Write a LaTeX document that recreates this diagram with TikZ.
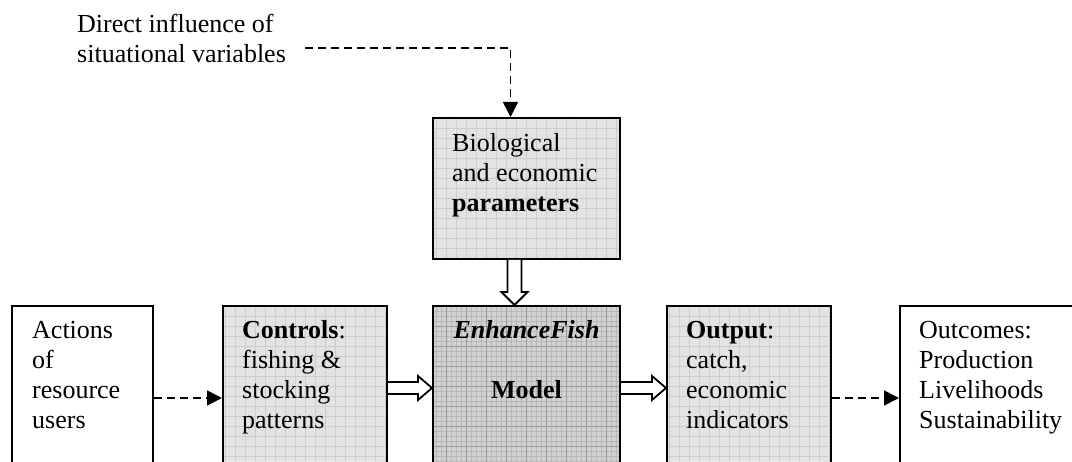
\documentclass[tikz,border=0pt]{standalone}
\usepackage{fontspec}
\setmainfont{Liberation Serif}
\usetikzlibrary{arrows.meta,calc}
\definecolor{lightfill}{HTML}{E3E3E3}
\definecolor{lightgrid}{HTML}{CDCDCD}
\definecolor{darkfill}{HTML}{D2D2D2}
\definecolor{darkgrid}{HTML}{B8B8B8}
\begin{document}
\begin{tikzpicture}[x=1pt,y=-1pt,
  box/.style={draw, line width=2pt, fill=white, anchor=north west, inner sep=0pt},
  lightbox/.style={box, fill=lightfill, path picture={
      \draw[lightgrid, line width=0.7pt] (path picture bounding box.south west) grid[step=10pt] (path picture bounding box.north east);}},
  darkbox/.style={box, fill=darkfill, path picture={
      \draw[darkgrid, line width=0.6pt] (path picture bounding box.south west) grid[step=5pt] (path picture bounding box.north east);
      \draw[darkgrid!85!black, line width=0.6pt] (path picture bounding box.south west) grid[step=20pt] (path picture bounding box.north east);}},
  txt/.style={inner sep=0pt, anchor=base west, font=\fontsize{26}{30}\selectfont},
  dasharrow/.style={line width=1.8pt, dash pattern=on 8pt off 5pt, -{Triangle[length=15pt,width=15pt]}},
  fat/.style={draw, line width=1.8pt, fill=white, line join=miter}
]
\clip (0,0) rectangle (1072,462);
\fill[white] (0,0) rectangle (1072,462);

% boxes
\node[box, minimum width=141pt, minimum height=200pt] (A) at (11,305) {};
\node[lightbox, minimum width=164pt, minimum height=200pt] (C) at (222,305) {};
\node[darkbox, minimum width=187pt, minimum height=200pt] (M) at (432,305) {};
\node[lightbox, minimum width=164pt, minimum height=200pt] (O) at (666,305) {};
\node[box, minimum width=195pt, minimum height=200pt] (U) at (899,305) {};
\node[lightbox, minimum width=187pt, minimum height=141pt] (P) at (432,117) {};

% texts
\node[txt] (Dtxt) at (77,33) {\parbox[t]{220pt}{Direct influence of\\situational variables}};
\node[txt] (Ptxt) at ($(P.north west)+(20,35)$) {\parbox[t]{170pt}{Biological\\and economic\\\textbf{parameters}}};
\node[txt] (Atxt) at ($(A.north west)+(21,34)$) {\parbox[t]{120pt}{Actions\\of\\resource\\users}};
\node[txt] (Ctxt) at ($(C.north west)+(20,34)$) {\parbox[t]{150pt}{\textbf{Controls}:\\fishing \&\\stocking\\patterns}};
\node[txt, anchor=base] (Mtxt) at ($(M.north)+(0,34)$) {\parbox[t]{187pt}{\centering\textbf{\textit{EnhanceFish}}\\[30pt]\textbf{Model}}};
\node[txt] (Otxt) at ($(O.north west)+(20,34)$) {\parbox[t]{150pt}{\textbf{Output}:\\catch,\\economic\\indicators}};
\node[txt] (Utxt) at ($(U.north west)+(20,34)$) {\parbox[t]{170pt}{Outcomes:\\Production\\Livelihoods\\Sustainability}};

% dashed connectors
\coordinate (ds) at (305,48);
\draw[dasharrow] (ds) -| ($(P.north)+(-16,0)$);
\draw[dasharrow] ($(A.north east)+(0,93)$) -- ($(C.north west)+(0,93)$);
\draw[dasharrow] ($(O.north east)+(0,93)$) -- ($(U.north west)+(0,93)$);

% hollow arrows
\coordinate (ps) at ($(P.south)+(-12,0)$);
\coordinate (pe) at ($(M.north)+(-12,0)$);
\draw[fat] ($(ps)+(-7,0)$) -- ($(pe)+(-7,-13)$) -- ($(pe)+(-13,-13)$) -- (pe) -- ($(pe)+(13,-13)$) -- ($(pe)+(7,-13)$) -- ($(ps)+(7,0)$);
\coordinate (cs) at ($(C.north east)+(0,83)$);
\coordinate (ce) at ($(M.north west)+(0,83)$);
\draw[fat] ($(cs)+(0,-6)$) -- ($(ce)+(-14,-6)$) -- ($(ce)+(-14,-12)$) -- (ce) -- ($(ce)+(-14,12)$) -- ($(ce)+(-14,6)$) -- ($(cs)+(0,6)$);
\coordinate (ms) at ($(M.north east)+(0,83)$);
\coordinate (me) at ($(O.north west)+(0,83)$);
\draw[fat] ($(ms)+(0,-6)$) -- ($(me)+(-14,-6)$) -- ($(me)+(-14,-12)$) -- (me) -- ($(me)+(-14,12)$) -- ($(me)+(-14,6)$) -- ($(ms)+(0,6)$);
\end{tikzpicture}
\end{document}
